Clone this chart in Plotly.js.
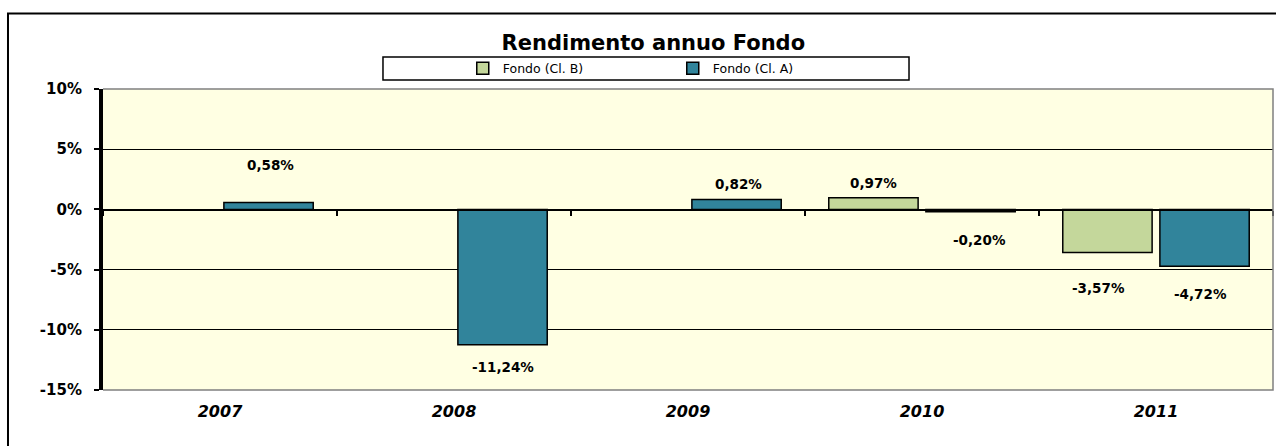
<!DOCTYPE html>
<html>
<head>
<meta charset="utf-8">
<script src="https://cdn.plot.ly/plotly-3.0.1.min.js"></script>
<style>html,body{margin:0;padding:0;background:#fff;}#chart{width:1276px;height:446px;}</style>
</head>
<body>
<div id="chart"></div>
<script>
// ---- data ----
var categories = ['2007', '2008', '2009', '2010', '2011'];
var seriesNames = ['Fondo (Cl. B)', 'Fondo (Cl. A)'];
var valuesB = [null, null, null, 0.97, -3.57];
var valuesA = [0.58, -11.24, 0.82, -0.20, -4.72];
var yTickValues = [-15, -10, -5, 0, 5, 10];
var yTickLabels = ['-15%', '-10%', '-5%', '0%', '5%', '10%'];

// ---- label placement tweaks (pixels), kept apart from data ----
var labelDxB = [0, 0, 0, 0, -9];
var labelDyB = [0, 0, 0, 15, -36];
var labelDxA = [2, 0, 2, 9, -4];
var labelDyA = [37, -22, 16, -28, -28];

var FONT = 'DejaVu Sans';
var colorB = '#C4D79B';
var colorA = '#31849B';

function fmt(v) { return v.toFixed(2).replace('.', ',') + '%'; }

var traces = [
  { type: 'bar', name: seriesNames[0], x: categories, y: valuesB,
    marker: { color: colorB, line: { color: '#000', width: 1.5 } }, hoverinfo: 'skip' },
  { type: 'bar', name: seriesNames[1], x: categories, y: valuesA,
    marker: { color: colorA, line: { color: '#000', width: 1.5 } }, hoverinfo: 'skip' },
  { type: 'scatter', mode: 'markers', x: categories, y: categories.map(function(){return null;}),
    xaxis: 'x2', yaxis: 'y', showlegend: false, hoverinfo: 'skip' }
];

// data labels: x given as the category's index on the category axis
var annotations = [];
function addLabels(vals, dx, dy, off) {
  vals.forEach(function (v, i) {
    if (v === null) return;
    annotations.push({
      x: categories.indexOf(categories[i]), y: v, xref: 'x', yref: 'y', showarrow: false,
      text: '<b>' + fmt(v) + '</b>', xshift: off + dx[i], yshift: dy[i],
      font: { family: FONT, size: 13.5, color: '#000' }
    });
  });
}
addLabels(valuesB, labelDxB, labelDyB, -48.5);
addLabels(valuesA, labelDxA, labelDyA, 48.5);

var layout = {
  width: 1276, height: 446,
  margin: { l: 103, r: 3, t: 89, b: 56 },
  paper_bgcolor: '#ffffff',
  plot_bgcolor: '#FFFFE3',
  barmode: 'group', bargap: 0.17, bargroupgap: 0.08,
  title: { text: '<b>Rendimento annuo Fondo</b>', x: 0.512, xref: 'container', xanchor: 'center',
           y: 1 - 43 / 446, yanchor: 'middle', yref: 'container',
           font: { family: FONT, size: 21, color: '#000' } },
  showlegend: true,
  legend: { orientation: 'h', x: 0.3075, xanchor: 'left', y: 1.068, yanchor: 'middle',
            bgcolor: 'rgba(0,0,0,0)', borderwidth: 0, itemwidth: 30, entrywidth: 165,
            font: { family: FONT, size: 12.5, color: '#000' }, traceorder: 'normal' },
  xaxis: { type: 'category', categoryorder: 'array', categoryarray: categories,
           range: [-0.5, 4.5], showgrid: false, zeroline: false, showline: false,
           ticks: '', ticklabelstandoff: 10,
           tickfont: { family: FONT, size: 16, weight: 'bold', style: 'italic', color: '#000' } },
  xaxis2: { type: 'category', categoryorder: 'array', categoryarray: categories,
            overlaying: 'x', anchor: 'free', position: 0.6, range: [-0.5, 4.5],
            tickson: 'boundaries', ticks: 'outside', ticklen: 5, tickwidth: 1.5, tickcolor: '#000',
            showline: true, linecolor: '#000', linewidth: 1.5, showgrid: false,
            showticklabels: false, zeroline: false },
  yaxis: { range: [-15, 10], tickmode: 'array', tickvals: yTickValues, ticktext: yTickLabels,
           showgrid: true, gridcolor: '#000', gridwidth: 1, zeroline: false,
           showline: true, linecolor: '#000', linewidth: 4,
           ticks: 'outside', ticklen: 5, tickwidth: 2, tickcolor: '#000', ticklabelstandoff: 9,
           tickfont: { family: FONT, size: 15, weight: 'bold', color: '#000' } },
  annotations: annotations,
  shapes: [
    { type: 'path', xref: 'paper', yref: 'paper', path: 'M 0 1 L 1 1 L 1 0 L 0 0',
      line: { color: '#808080', width: 1.5 }, layer: 'above' },
    { type: 'rect', xref: 'paper', yref: 'paper', x0: 0.2393, x1: 0.6889, y0: 1.0299, y1: 1.1063,
      fillcolor: '#ffffff', line: { color: '#000', width: 1.5 }, layer: 'below' },
    { type: 'rect', xref: 'paper', yref: 'paper', x0: -0.0812, x1: 1.01, y0: -0.25, y1: 1.2508,
      line: { color: '#000', width: 2 }, layer: 'below' }
  ]
};

Plotly.newPlot('chart', traces, layout, { displayModeBar: false, staticPlot: true });
</script>
</body>
</html>
